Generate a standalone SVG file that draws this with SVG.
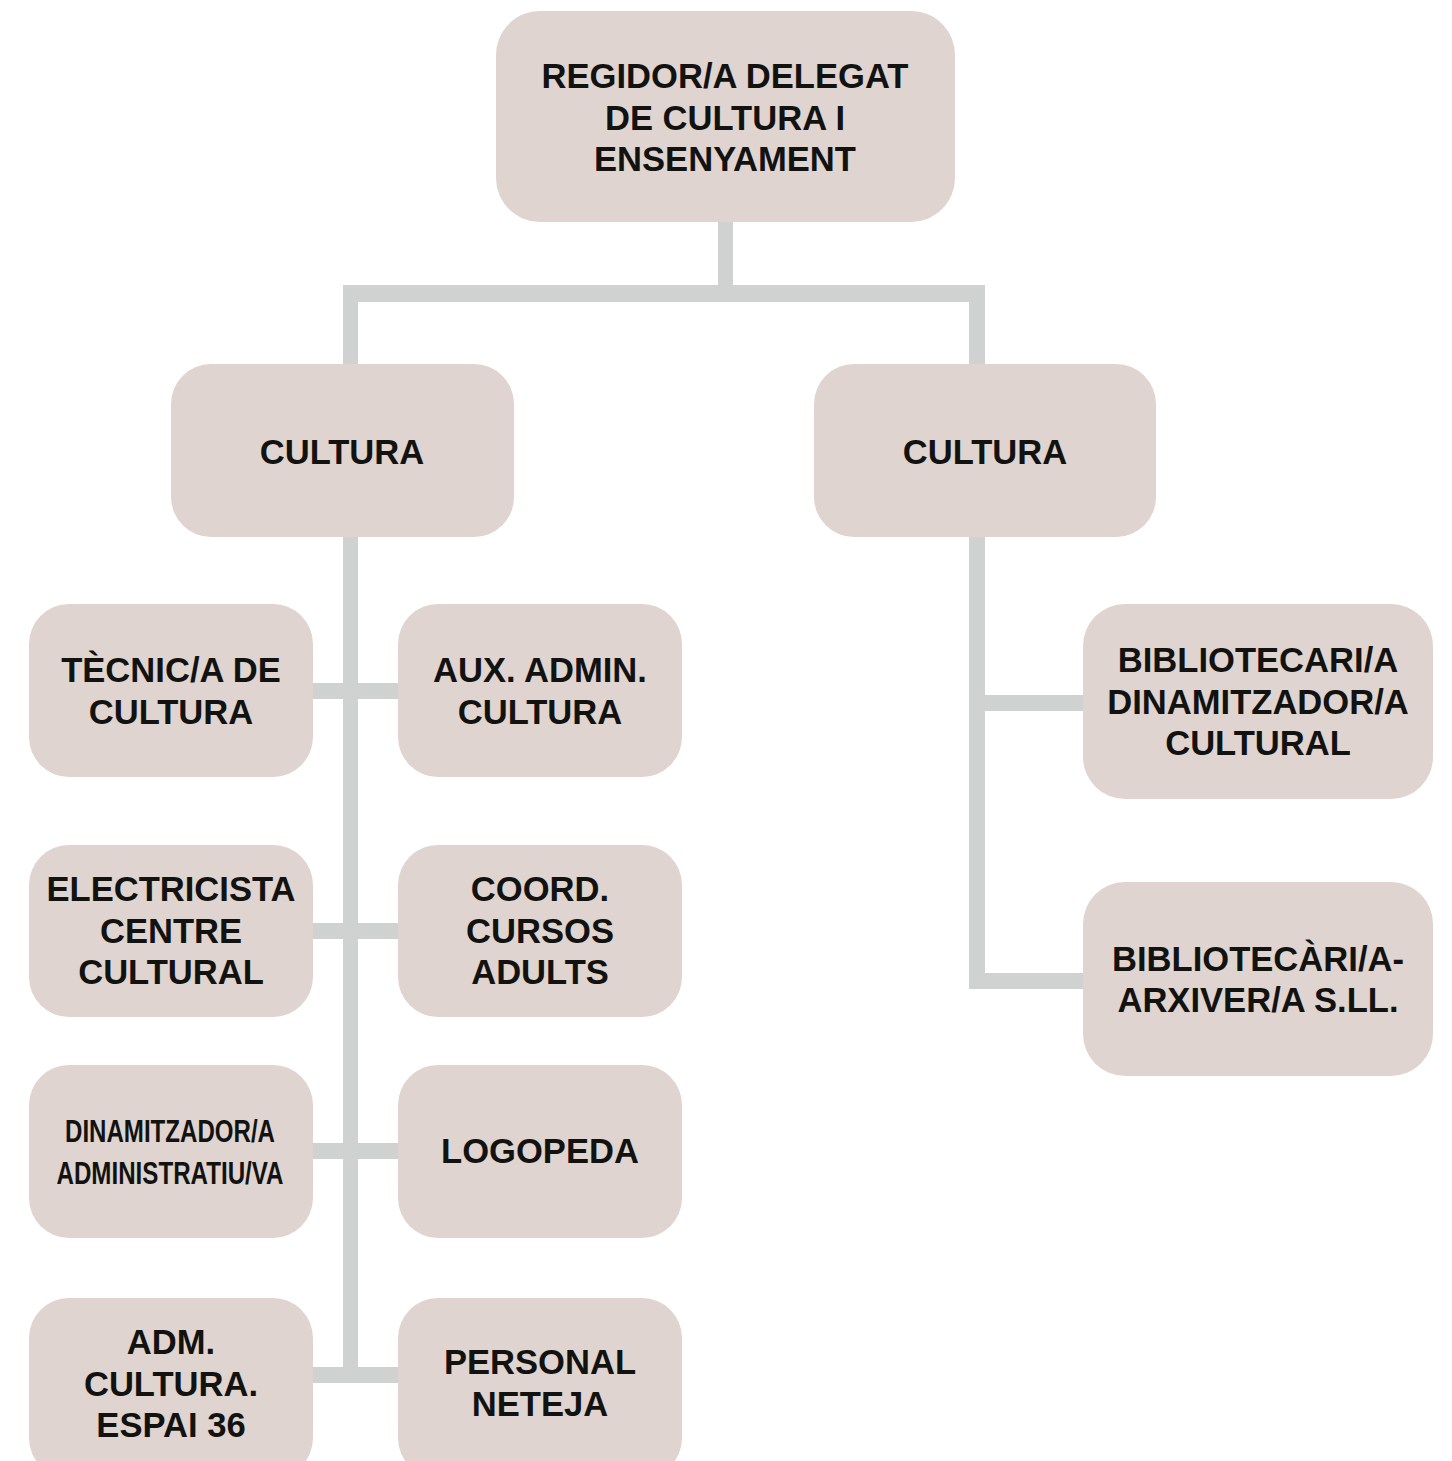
<svg xmlns="http://www.w3.org/2000/svg" width="1452" height="1461" viewBox="0 0 1452 1461">
<style>
.n{fill:#DFD4CF}
.c{fill:#D0D2D1}
text{font-family:"Liberation Sans",Arial,sans-serif;font-weight:bold;font-size:34.6px;fill:#121210;text-anchor:middle}
.s{font-size:31px}
</style>
<rect width="1452" height="1461" fill="#FFFFFF"/>
<g id="connectors">
<rect class="c" x="718" y="222" width="15" height="80"/>
<rect class="c" x="343" y="285" width="642" height="17"/>
<rect class="c" x="343" y="285" width="15" height="80"/>
<rect class="c" x="969" y="285" width="16" height="80"/>
<rect class="c" x="343" y="537" width="15" height="846"/>
<rect class="c" x="313" y="683" width="85" height="16"/>
<rect class="c" x="313" y="923" width="85" height="16"/>
<rect class="c" x="313" y="1143" width="85" height="16"/>
<rect class="c" x="313" y="1367" width="85" height="16"/>
<rect class="c" x="969" y="537" width="16" height="452"/>
<rect class="c" x="969" y="695" width="114" height="16"/>
<rect class="c" x="969" y="973" width="114" height="16"/>
</g>
<g id="regidor">
<rect class="n" x="496" y="11" width="459" height="211" rx="44"/>
<text x="725" y="88">REGIDOR/A DELEGAT</text>
<text x="725" y="130">DE CULTURA I</text>
<text x="725" y="171">ENSENYAMENT</text>
</g>
<g id="cultura-left">
<rect class="n" x="171" y="364" width="343" height="173" rx="40"/>
<text x="342" y="464">CULTURA</text>
</g>
<g id="cultura-right">
<rect class="n" x="814" y="364" width="342" height="173" rx="40"/>
<text x="985" y="464">CULTURA</text>
</g>
<g id="tecnic">
<rect class="n" x="29" y="604" width="284" height="173" rx="40"/>
<text x="171" y="682">TÈCNIC/A DE</text>
<text x="171" y="724">CULTURA</text>
</g>
<g id="aux-admin">
<rect class="n" x="398" y="604" width="284" height="173" rx="40"/>
<text x="540" y="682">AUX. ADMIN.</text>
<text x="540" y="724">CULTURA</text>
</g>
<g id="electricista">
<rect class="n" x="29" y="845" width="284" height="172" rx="40"/>
<text x="171" y="901">ELECTRICISTA</text>
<text x="171" y="943">CENTRE</text>
<text x="171" y="984">CULTURAL</text>
</g>
<g id="coord">
<rect class="n" x="398" y="845" width="284" height="172" rx="40"/>
<text x="540" y="901">COORD.</text>
<text x="540" y="943">CURSOS</text>
<text x="540" y="984">ADULTS</text>
</g>
<g id="dinamitzador-admin">
<rect class="n" x="29" y="1065" width="284" height="173" rx="40"/>
<text class="s" x="170" y="1142" textLength="210" lengthAdjust="spacingAndGlyphs">DINAMITZADOR/A</text>
<text class="s" x="170" y="1184" textLength="227" lengthAdjust="spacingAndGlyphs">ADMINISTRATIU/VA</text>
</g>
<g id="logopeda">
<rect class="n" x="398" y="1065" width="284" height="173" rx="40"/>
<text x="540" y="1163">LOGOPEDA</text>
</g>
<g id="adm-espai36">
<rect class="n" x="29" y="1298" width="284" height="180" rx="40"/>
<text x="171" y="1354">ADM.</text>
<text x="171" y="1396">CULTURA.</text>
<text x="171" y="1437">ESPAI 36</text>
</g>
<g id="personal-neteja">
<rect class="n" x="398" y="1298" width="284" height="180" rx="40"/>
<text x="540" y="1374">PERSONAL</text>
<text x="540" y="1416">NETEJA</text>
</g>
<g id="bibliotecari-dinamitzador">
<rect class="n" x="1083" y="604" width="350" height="195" rx="42"/>
<text x="1258" y="672">BIBLIOTECARI/A</text>
<text x="1258" y="714">DINAMITZADOR/A</text>
<text x="1258" y="755">CULTURAL</text>
</g>
<g id="bibliotecari-arxiver">
<rect class="n" x="1083" y="882" width="350" height="194" rx="42"/>
<text x="1258" y="971">BIBLIOTECÀRI/A-</text>
<text x="1258" y="1012">ARXIVER/A S.LL.</text>
</g>
</svg>
